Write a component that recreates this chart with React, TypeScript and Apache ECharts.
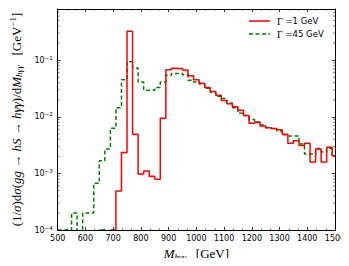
import React, { useEffect, useRef } from 'react';
import * as echarts from 'echarts';

// bin centres (GeV), bin width 20 GeV
const binCenters = [
  500, 520, 540, 560, 580, 600, 620, 640, 660, 680,
  700, 720, 740, 760, 780, 800, 820, 840, 860, 880,
  900, 920, 940, 960, 980, 1000, 1020, 1040, 1060, 1080,
  1100, 1120, 1140, 1160, 1180, 1200, 1220, 1240, 1260, 1280,
  1300, 1320, 1340, 1360, 1380, 1400, 1420, 1440, 1460, 1480,
  1500,
];

// 1e-6 means "below the plotted range"
const gamma1GeV = [
  1e-6, 1e-6, 1e-6, 1e-6, 1e-6, 1e-6, 1e-6, 1e-6, 1e-4, 1e-6,
  1e-4, 4.9e-4, 2.35e-3, 0.325, 4.9e-3, 9.8e-4, 1.1e-3, 8.9e-4, 7.9e-4, 9.4e-3,
  6.8e-2, 7.2e-2, 7.1e-2, 6.7e-2, 5.3e-2, 4.5e-2, 3.9e-2, 3.3e-2, 2.8e-2, 2.4e-2,
  1.95e-2, 1.7e-2, 1.5e-2, 1.3e-2, 1.05e-2, 7.7e-3, 8.1e-3, 6.9e-3, 6.4e-3, 6.2e-3,
  5.9e-3, 4.9e-3, 3.4e-3, 3.76e-3, 3.1e-3, 3.4e-3, 1.6e-3, 2.7e-3, 1.6e-3, 2.9e-3,
  2.05e-3,
];

const gamma45GeV = [
  1e-4, 1e-4, 1e-4, 2.0e-4, 1e-6, 2.0e-4, 2.0e-4, 6.7e-4, 1.68e-3, 2.7e-3,
  6.3e-3, 1.45e-2, 4.5e-2, 9.4e-2, 7.3e-2, 4.1e-2, 2.95e-2, 2.95e-2, 3.3e-2, 4.1e-2,
  5.4e-2, 5.8e-2, 5.8e-2, 5.5e-2, 4.4e-2, 4.1e-2, 3.8e-2, 3.2e-2, 2.7e-2, 2.3e-2,
  2.1e-2, 1.75e-2, 1.45e-2, 1.15e-2, 1.05e-2, 9.0e-3, 7.9e-3, 7.2e-3, 6.4e-3, 6.2e-3,
  5.6e-3, 4.8e-3, 4.6e-3, 4.6e-3, 3.3e-3, 2.2e-3, 2.2e-3, 2.75e-3, 2.4e-3, 2.75e-3,
  2.05e-3,
];

const seriesNames = ['Γ =1 GeV', 'Γ =45 GeV'];
const seriesColors = ['#ff0000', '#008000'];

// log minor tick positions on the y axis
const yMinorTicks = [
  2e-4, 3e-4, 4e-4, 5e-4, 6e-4, 7e-4, 8e-4, 9e-4,
  2e-3, 3e-3, 4e-3, 5e-3, 6e-3, 7e-3, 8e-3, 9e-3,
  2e-2, 3e-2, 4e-2, 5e-2, 6e-2, 7e-2, 8e-2, 9e-2,
  0.2, 0.3, 0.4, 0.5, 0.6, 0.7,
];

const X_MIN = 500;
const X_MAX = 1500;
const Y_MIN = 1e-4;
const Y_MAX = 0.8;

function yLabel(v: number): string {
  const lg = Math.log10(v);
  const n = Math.round(lg);
  if (Math.abs(lg - n) > 1e-6) return '';
  return `{b|10}{e|−${Math.abs(n)}}`;
}

export default function App() {
  const ref = useRef<HTMLDivElement>(null);

  useEffect(() => {
    if (!ref.current) return;
    const chart = echarts.init(ref.current, undefined, { renderer: 'svg' });
    const sans = 'DejaVu Sans';
    const serif = 'Liberation Serif';

    const frameAxisLine = { show: true, lineStyle: { color: '#000', width: 1 } };
    const dash = [4, 2.5];

    // hand-drawn legend (line sample + label)
    const legendRows = seriesNames.map((name, i) => {
      const y = 21 + i * 13;
      return [
        {
          type: 'line',
          shape: { x1: 249, y1: y, x2: 270, y2: y },
          style: { stroke: seriesColors[i], lineWidth: 1.5, lineDash: i === 1 ? dash : null },
          z: 10,
        },
        {
          type: 'text',
          x: 277,
          y,
          z: 10,
          style: {
            text: `{g|Γ}{t|${name.slice(1)}}`,
            verticalAlign: 'middle',
            align: 'left',
            rich: {
              g: { fontFamily: serif, fontSize: 10, fill: '#000' },
              t: { fontFamily: sans, fontSize: 8.5, fill: '#000' },
            },
          },
        },
      ];
    });

    chart.setOption({
      animation: false,
      backgroundColor: '#fff',
      grid: { left: 46, right: 14, top: 9, bottom: 34, containLabel: false },
      graphic: legendRows.flat(),
      xAxis: [
        {
          type: 'value',
          min: X_MIN,
          max: X_MAX,
          interval: 100,
          position: 'bottom',
          z: 5,
          axisLine: frameAxisLine,
          axisTick: { show: true, inside: true, length: 3, lineStyle: { color: '#000', width: 0.8 } },
          minorTick: { show: true, splitNumber: 3, length: 1.5, lineStyle: { color: '#000', width: 0.6 } },
          splitLine: { show: false },
          axisLabel: {
            show: true,
            fontFamily: sans,
            fontSize: 8,
            color: '#000',
            margin: 4,
            formatter: (v: number) => String(v),
          },
          name: '{m|M}{s|hγγ}{t|   [GeV]}',
          nameLocation: 'middle',
          nameGap: 14,
          nameTextStyle: {
            rich: {
              m: { fontFamily: serif, fontStyle: 'italic', fontSize: 13, color: '#000' },
              s: { fontFamily: serif, fontStyle: 'italic', fontSize: 9, color: '#000', padding: [6, 0, 0, 0] },
              t: { fontFamily: serif, fontSize: 13, color: '#000' },
            },
          },
        },
        {
          type: 'value',
          min: X_MIN,
          max: X_MAX,
          interval: 100,
          position: 'top',
          z: 5,
          axisLine: frameAxisLine,
          axisTick: { show: true, inside: true, length: 3, lineStyle: { color: '#000', width: 0.8 } },
          minorTick: { show: true, splitNumber: 3, length: 1.5, lineStyle: { color: '#000', width: 0.6 } },
          splitLine: { show: false },
          axisLabel: { show: false },
        },
      ],
      yAxis: [
        {
          type: 'log',
          logBase: 10,
          min: Y_MIN,
          max: Y_MAX,
          position: 'left',
          z: 5,
          axisLine: frameAxisLine,
          axisTick: { show: true, inside: true, length: 3, lineStyle: { color: '#000', width: 0.8 } },
          splitLine: { show: false },
          axisLabel: {
            show: true,
            margin: 5,
            showMaxLabel: false,
            formatter: yLabel,
            rich: {
              b: { fontFamily: sans, fontSize: 8, color: '#000' },
              e: { fontFamily: sans, fontSize: 5.5, color: '#000', verticalAlign: 'top', padding: [0, 0, 5, 0] },
            },
          },
          name: '{t|(1/}{i|σ}{t|)d}{i|σ}{t|(}{i|gg}{t| → }{i|hS}{t| → }{i|hγγ}{t|)/d}{i|M}{s|hγγ}{t|   [GeV}{e|−1}{t|]}',
          nameLocation: 'middle',
          nameRotate: 90,
          nameGap: 31,
          nameTextStyle: {
            rich: {
              t: { fontFamily: serif, fontSize: 13, color: '#000' },
              i: { fontFamily: serif, fontStyle: 'italic', fontSize: 13, color: '#000' },
              s: { fontFamily: serif, fontStyle: 'italic', fontSize: 9, color: '#000', padding: [6, 0, 0, 0] },
              e: { fontFamily: serif, fontSize: 9, color: '#000', padding: [0, 0, 7, 0] },
            },
          },
        },
        {
          type: 'log',
          logBase: 10,
          min: Y_MIN,
          max: Y_MAX,
          position: 'right',
          z: 5,
          axisLine: frameAxisLine,
          axisTick: { show: true, inside: true, length: 3, lineStyle: { color: '#000', width: 0.8 } },
          splitLine: { show: false },
          axisLabel: { show: false },
        },
      ],
      series: [
        {
          name: seriesNames[0],
          type: 'line',
          step: 'middle',
          showSymbol: false,
          symbol: 'none',
          clip: true,
          z: 3,
          data: binCenters.map((x, i) => [x, gamma1GeV[i]]),
          lineStyle: { color: seriesColors[0], width: 1.5 },
          itemStyle: { color: seriesColors[0] },
        },
        {
          name: seriesNames[1],
          type: 'line',
          step: 'middle',
          showSymbol: false,
          symbol: 'none',
          clip: true,
          z: 2,
          data: binCenters.map((x, i) => [x, gamma45GeV[i]]),
          lineStyle: { color: seriesColors[1], width: 1.5, type: dash },
          itemStyle: { color: seriesColors[1] },
        },
        {
          type: 'custom',
          silent: true,
          z: 6,
          data: yMinorTicks.map((v) => [X_MIN, v]),
          renderItem: (_params: any, api: any) => {
            const v = api.value(1);
            const pl = api.coord([X_MIN, v]);
            const pr = api.coord([X_MAX, v]);
            const st = { stroke: '#000', lineWidth: 0.6 };
            return {
              type: 'group',
              children: [
                { type: 'line', shape: { x1: pl[0], y1: pl[1], x2: pl[0] + 1.8, y2: pl[1] }, style: st },
                { type: 'line', shape: { x1: pr[0], y1: pr[1], x2: pr[0] - 1.8, y2: pr[1] }, style: st },
              ],
            };
          },
        },
      ],
    });

    return () => chart.dispose();
  }, []);

  return <div ref={ref} style={{ width: 349, height: 266, margin: -8 }} />;
}
